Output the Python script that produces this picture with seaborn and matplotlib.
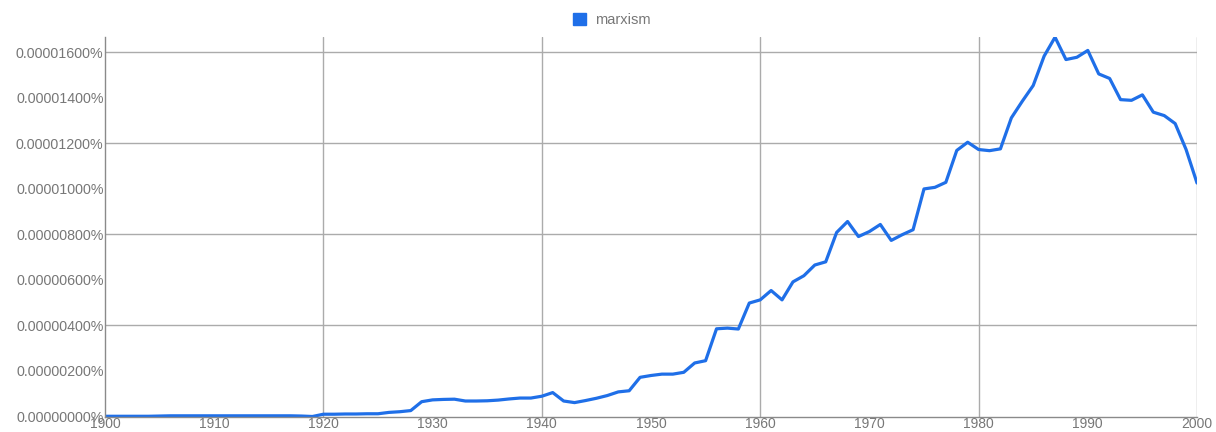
import numpy as np
import pandas as pd
import matplotlib
matplotlib.use("Agg")
import matplotlib.pyplot as plt
import seaborn as sns
from matplotlib.ticker import FuncFormatter, MultipleLocator
from matplotlib.patches import Patch

# Data: frequency in units of 1e-8 percent
years = list(range(1900, 2001))
marxism = [
    1, 1, 1, 1, 1, 2, 3, 3, 3, 3,            # 1900-1909
    3, 3, 3, 3, 3, 3, 3, 3, 2, 0,            # 1910-1919
    10, 10, 11, 11, 12, 12, 18, 21, 26, 65,  # 1920-1929
    73, 75, 76, 68, 68, 69, 72, 77, 81, 81,  # 1930-1939
    89, 105, 68, 61, 70, 80, 92, 108, 113, 172,  # 1940-1949
    180, 186, 186, 194, 235, 245, 385, 388, 384, 498,  # 1950-1959
    512, 553, 512, 591, 618, 665, 679, 808, 856, 790,  # 1960-1969
    812, 843, 773, 798, 820, 999, 1006, 1028, 1168, 1204,  # 1970-1979
    1172, 1167, 1175, 1311, 1384, 1453, 1582, 1665, 1567, 1577,  # 1980-1989
    1607, 1504, 1484, 1391, 1388, 1412, 1336, 1321, 1286, 1172,  # 1990-1999
    1025,                                     # 2000
]
series_name = "marxism"

df = pd.DataFrame({"year": years, "value": marxism})

sns.set_style("white")
plt.rcParams["font.family"] = ["Liberation Sans", "DejaVu Sans"]

fig = plt.figure(figsize=(12.16, 4.32), dpi=100)
ax = fig.add_axes([105 / 1216, 1 - 416.5 / 432, (1197 - 105) / 1216, (416.5 - 37) / 432])

line_color = "#1f6fe8"
sns.lineplot(data=df, x="year", y="value", ax=ax, color=line_color, linewidth=2.3, legend=False)

ax.set_xlim(1900, 2000)
ax.set_ylim(0, 1666)
ax.xaxis.set_major_locator(MultipleLocator(10))
ax.yaxis.set_major_locator(MultipleLocator(200))
ax.yaxis.set_major_formatter(FuncFormatter(lambda v, p: f"{v * 1e-8:.8f}%"))
ax.xaxis.set_major_formatter(FuncFormatter(lambda v, p: f"{int(v)}"))

# gridlines: vertical every 20 years, horizontal every 400
for xv in range(1920, 2001, 20):
    ax.axvline(xv, color="#ababab", linewidth=1.0, zorder=0)
for yv in range(400, 1667, 400):
    ax.axhline(yv, color="#ababab", linewidth=1.0, zorder=0)

for side in ["top", "right"]:
    ax.spines[side].set_visible(False)
for side in ["left", "bottom"]:
    ax.spines[side].set_color("#8a8a8a")
    ax.spines[side].set_linewidth(1.0)

ax.tick_params(axis="y", length=0, labelsize=10.3, labelcolor="#777777", pad=1)
ax.tick_params(axis="x", length=0, labelsize=10, labelcolor="#777777", pad=0)
ax.set_xlabel("")
ax.set_ylabel("")

handle = Patch(facecolor=line_color, edgecolor=line_color)
leg = fig.legend([handle], [series_name], loc="center", bbox_to_anchor=(0.503, 1 - 20 / 432),
                 frameon=False, fontsize=10.5, handlelength=0.95, handleheight=0.95,
                 handletextpad=0.6)
for t in leg.get_texts():
    t.set_color("#777777")

fig.savefig("out.png", dpi=100)
